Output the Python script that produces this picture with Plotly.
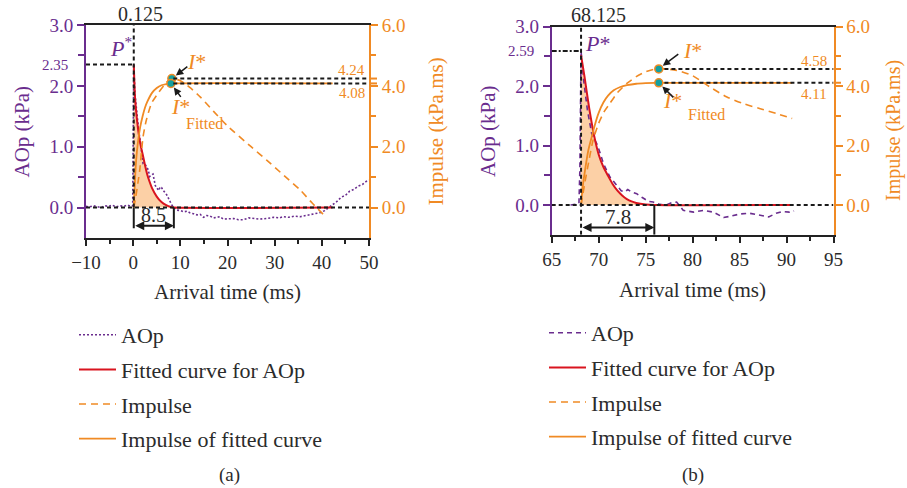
import plotly.graph_objects as go

W, H = 907, 488
FONT = "Liberation Serif"
TXT = "#2b2b2b"
PURPLE = "#6a2d8e"
ORANGE = "#f08a24"
RED = "#d9141f"
FILL = "#fcd0a6"
CYAN = "#14a0a0"

# ---------------- panel (a) ----------------
a_arrival = 0.125
a_peak = 2.35
a_duration = 8.5
a_I = 4.24
a_I_fit = 4.08
a_I_t = 8.2
a_Ifit_t = 8.0

a_raw_t = [-10, -9.3, -8.5, -7.6, -6.8, -6.0, -5.2, -4.4, -3.6, -2.8, -2.0, -1.2, -0.5, -0.1,
           0.05, 0.125, 0.4, 0.8, 1.2, 1.7, 2.1, 2.6, 3.2, 3.5, 4.2, 4.7, 5.4, 5.73, 6.0, 6.4,
           7.1, 7.5, 7.8, 8.2, 8.7, 9.2, 10.0, 10.7, 11.5, 12.1, 12.8, 13.5, 14.2, 14.9, 15.6,
           16.3, 17.0, 17.7, 18.4, 19.1, 20.2, 21.3, 22.3, 23.4, 24.5, 25.5, 26.8, 28.3, 29.8,
           31.0, 31.8, 33.0, 34.2, 35.4, 36.7, 37.8, 38.9, 39.8, 40.6, 41.5, 42.4, 43.2, 44.1,
           45.0, 45.9, 46.8, 47.7, 48.6, 49.4, 50.0]
a_raw_p = [0.02, 0.01, 0.03, 0.02, 0.0, 0.03, 0.02, 0.04, 0.01, 0.03, 0.02, 0.04, 0.02, 0.03,
           1.2, 2.35, 1.85, 1.5, 1.25, 0.98, 0.72, 0.7, 0.62, 0.51, 0.55, 0.36, 0.28, 0.34, 0.33, 0.28,
           0.21, 0.15, 0.1, 0.04, 0.0, -0.04, -0.05, -0.07, -0.06, -0.09, -0.1, -0.12, -0.11, -0.16, -0.13,
           -0.14, -0.17, -0.16, -0.15, -0.19, -0.18, -0.18, -0.2, -0.2, -0.17, -0.18, -0.19, -0.18, -0.16,
           -0.17, -0.15, -0.16, -0.14, -0.15, -0.13, -0.12, -0.1, -0.08, -0.05, 0.0, 0.06, 0.1, 0.17,
           0.2, 0.27, 0.3, 0.35, 0.38, 0.43, 0.45]

a_fit_t = [0.125, 0.4, 0.8, 1.2, 1.6, 2.0, 2.5, 3.0, 3.5, 4.0, 5.0, 6.0, 7.0, 8.0, 8.625, 42.3]
a_fit_p = [2.35, 1.80, 1.45, 1.20, 1.02, 0.88, 0.70, 0.54, 0.42, 0.32, 0.18, 0.09, 0.04, 0.01, 0.0, 0.0]

a_imp_t = [0.125, 0.5, 1.0, 1.4, 2.1, 2.8, 3.9, 5.3, 7.0, 8.2, 10.0, 12.0, 14.2, 17.0, 20.0,
           25.0, 28.3, 32.0, 35.4, 38.0, 41.0]
a_imp_v = [0.0, 0.3, 0.8, 1.24, 2.33, 2.88, 3.43, 3.76, 4.1, 4.24, 4.17, 3.95, 3.64, 3.17, 2.68,
           2.0, 1.56, 1.05, 0.58, 0.14, -0.33]

a_impfit_t = [0.125, 0.3, 0.5, 0.8, 1.1, 1.5, 2.0, 2.5, 3.0, 4.0, 5.0, 6.0, 7.0, 8.0, 42.3]
a_impfit_v = [0.0, 0.6, 1.25, 1.85, 2.25, 2.65, 3.0, 3.28, 3.48, 3.77, 3.93, 4.02, 4.06, 4.08, 4.08]

# ---------------- panel (b) ----------------
b_arrival = 68.125
b_peak = 2.59
b_duration = 7.8
b_I = 4.58
b_I_fit = 4.11
b_I_t = 76.4
b_Ifit_t = 76.4

b_raw_t = [67.0, 67.5, 67.9, 68.0, 68.06, 68.1, 68.125, 68.4, 68.8, 69.26, 69.8, 70.1, 70.5, 71.2,
           71.9, 72.4, 72.8, 73.1, 73.5, 74.05, 74.6, 75.3, 75.8, 76.5, 77.2, 77.8, 78.3, 79.0,
           80.1, 81.2, 82.2, 83.3, 84.0, 85.1, 86.1, 87.2, 88.1, 88.9, 89.6, 90.3, 90.8]
b_raw_p = [0.0, 0.01, 0.02, 0.6, 1.6, 2.2, 2.59, 2.1, 1.6, 1.2, 1.03, 0.9, 0.7, 0.47,
           0.33, 0.24, 0.22, 0.26, 0.22, 0.19, 0.13, 0.06, 0.05, 0.01, 0.0, 0.04, 0.05, -0.09,
           -0.12, -0.09, -0.12, -0.21, -0.19, -0.15, -0.14, -0.18, -0.2, -0.14, -0.11, -0.12, -0.1]

b_fit_t = [68.125, 68.5, 69.0, 69.5, 70.0, 70.5, 71.0, 71.5, 72.0, 72.5, 73.0, 73.5, 74.0, 75.0, 76.0, 90.6]
b_fit_p = [2.52, 2.15, 1.62, 1.18, 0.85, 0.64, 0.49, 0.35, 0.24, 0.16, 0.10, 0.06, 0.035, 0.01, 0.0, 0.0]

b_imp_t = [68.125, 68.5, 69.0, 69.4, 70.0, 70.6, 71.2, 72.0, 73.0, 74.0, 75.0, 76.0, 77.0, 78.3,
           80.0, 81.85, 83.6, 85.4, 87.2, 89.0, 90.6]
b_imp_v = [0.0, 0.7, 1.55, 2.18, 2.75, 3.15, 3.42, 3.78, 4.09, 4.32, 4.48, 4.57, 4.58, 4.53,
           4.35, 3.97, 3.64, 3.41, 3.24, 3.07, 2.91]

b_impfit_t = [68.125, 68.3, 68.55, 68.9, 69.26, 69.6, 70.0, 70.5, 71.0, 71.6, 72.3, 73.0, 74.0, 75.0, 76.0, 90.6]
b_impfit_v = [0.0, 0.6, 1.17, 1.84, 2.29, 2.7, 3.1, 3.45, 3.68, 3.86, 3.97, 4.03, 4.08, 4.1, 4.11, 4.11]

# axis settings
x_a_range = [-10, 50]
x_b_range = [65, 95]
aop_range = [-0.5, 3.0]
imp_range = [-1.0, 6.0]
x_a_ticks = [-10, 0, 10, 20, 30, 40, 50]
x_b_ticks = [65, 70, 75, 80, 85, 90, 95]
aop_ticks = [0, 1, 2, 3]
imp_ticks = [0, 2, 4, 6]


def px(x):
    return x / W


def py(y):
    return 1 - y / H


fig = go.Figure()


def add_panel(xa, ya, ya2, raw_t, raw_p, raw_dash, fit_t, fit_p, imp_t, imp_v,
              impfit_t, impfit_v, legend, I_t, I_v, Ifit_t, Ifit_v):
    # area under the fitted pressure curve
    fig.add_trace(go.Scatter(x=fit_t, y=fit_p, xaxis=xa, yaxis=ya, mode="lines",
                             line=dict(width=0, shape="spline", smoothing=0.6),
                             fill="tozeroy", fillcolor=FILL, showlegend=False,
                             hoverinfo="skip"))
    fig.add_trace(go.Scatter(x=raw_t, y=raw_p, xaxis=xa, yaxis=ya, mode="lines",
                             name="AOp", legend=legend, legendgroup="g1", legendrank=1,
                             line=dict(color=PURPLE, width=1.6, dash=raw_dash)))
    fig.add_trace(go.Scatter(x=fit_t, y=fit_p, xaxis=xa, yaxis=ya, mode="lines",
                             name="Fitted curve for AOp", legend=legend, legendgroup="g2",
                             legendrank=2,
                             line=dict(color=RED, width=2, shape="spline", smoothing=0.6)))
    fig.add_trace(go.Scatter(x=imp_t, y=imp_v, xaxis=xa, yaxis=ya2, mode="lines",
                             name="Impulse", legend=legend, legendgroup="g3", legendrank=3,
                             line=dict(color=ORANGE, width=1.6, dash="7px,5px",
                                       shape="spline", smoothing=0.6)))
    fig.add_trace(go.Scatter(x=impfit_t, y=impfit_v, xaxis=xa, yaxis=ya2, mode="lines",
                             name="Impulse of fitted curve", legend=legend, legendgroup="g4",
                             legendrank=4,
                             line=dict(color=ORANGE, width=1.8, shape="spline", smoothing=0.6)))
    fig.add_trace(go.Scatter(x=[I_t, Ifit_t], y=[I_v, Ifit_v], xaxis=xa, yaxis=ya2,
                             mode="markers", showlegend=False,
                             marker=dict(size=8, color=CYAN, line=dict(color=ORANGE, width=1.5))))


add_panel("x", "y", "y2", a_raw_t, a_raw_p, "2px,2px", a_fit_t, a_fit_p, a_imp_t, a_imp_v,
          a_impfit_t, a_impfit_v, "legend", a_I_t, a_I, a_Ifit_t, a_I_fit)
add_panel("x2", "y3", "y4", b_raw_t, b_raw_p, "5px,4px", b_fit_t, b_fit_p, b_imp_t, b_imp_v,
          b_impfit_t, b_impfit_v, "legend2", b_I_t, b_I, b_Ifit_t, b_I_fit)


def xaxis(domain, rng, ticks, anchor):
    return dict(domain=domain, range=rng, anchor=anchor, tickmode="array", tickvals=ticks,
                showline=True, linecolor="#222", linewidth=2, mirror=True,
                ticks="outside", ticklen=6, tickwidth=2, tickcolor="#222",
                minor=dict(ticks="outside", ticklen=4, tickwidth=2, tickcolor="#222",
                           dtick=(ticks[1] - ticks[0]) / 2, tick0=ticks[0]),
                tickfont=dict(family=FONT, size=19, color=TXT),
                showgrid=False, zeroline=False, automargin=False)


def yleft(domain, anchor):
    return dict(domain=domain, range=aop_range, anchor=anchor, tickmode="array",
                tickvals=aop_ticks, tickformat=".1f",
                showline=True, linecolor=PURPLE, linewidth=2,
                ticks="outside", ticklen=7, tickwidth=2, tickcolor=PURPLE,
                minor=dict(ticks="outside", ticklen=6, tickwidth=2, tickcolor=PURPLE,
                           tickmode="array", tickvals=[0.5, 1.5, 2.5]),
                tickfont=dict(family=FONT, size=19, color=PURPLE),
                showgrid=False, zeroline=False, automargin=False)


def yright(overlay, anchor):
    return dict(overlaying=overlay, side="right", range=imp_range, anchor=anchor,
                tickmode="array", tickvals=imp_ticks, tickformat=".1f",
                showline=True, linecolor=ORANGE, linewidth=2,
                ticks="outside", ticklen=7, tickwidth=2, tickcolor=ORANGE,
                minor=dict(ticks="outside", ticklen=5, tickwidth=2, tickcolor=ORANGE,
                           tickmode="array", tickvals=[1, 3, 5]),
                tickfont=dict(family=FONT, size=19, color=ORANGE),
                showgrid=False, zeroline=False, automargin=False)


xa_dom = [px(86), px(369)]
ya_dom = [py(238), py(25)]
xb_dom = [px(551.7), px(833.5)]
yb_dom = [py(234.7), py(26.7)]

BLK = dict(color="#1a1a1a", width=2, dash="4px,3px")
SOLID = dict(color="#1a1a1a", width=2)

shapes = [
    # panel (a)
    dict(type="line", xref="x", yref="y", x0=x_a_range[0], x1=x_a_range[1], y0=0, y1=0, line=BLK, layer="above"),
    dict(type="line", xref="x", yref="y", x0=a_arrival, x1=a_arrival, y0=0, y1=aop_range[1], line=BLK),
    dict(type="line", xref="x", yref="y", x0=x_a_range[0], x1=a_arrival, y0=a_peak, y1=a_peak, line=BLK),
    dict(type="line", xref="x", yref="y2", x0=a_I_t + 0.3, x1=x_a_range[1], y0=a_I, y1=a_I, line=BLK),
    dict(type="line", xref="x", yref="y2", x0=a_Ifit_t + 0.5, x1=x_a_range[1], y0=a_I_fit, y1=a_I_fit, line=BLK),
    dict(type="line", xref="paper", yref="y2", x0=px(369), x1=px(377), y0=a_I, y1=a_I, line=dict(color=ORANGE, width=2)),
    dict(type="line", xref="paper", yref="y2", x0=px(369), x1=px(377), y0=a_I_fit, y1=a_I_fit, line=dict(color=ORANGE, width=2)),
    dict(type="line", xref="x", yref="y", x0=a_arrival, x1=a_arrival, y0=0, y1=-0.34, line=SOLID),
    dict(type="line", xref="x", yref="y", x0=a_arrival + a_duration, x1=a_arrival + a_duration, y0=0, y1=-0.34, line=SOLID),
    # panel (b)
    dict(type="line", xref="x2", yref="y3", x0=x_b_range[0], x1=x_b_range[1], y0=0, y1=0, line=BLK, layer="above"),
    dict(type="line", xref="x2", yref="y3", x0=b_arrival, x1=b_arrival, y0=aop_range[0], y1=aop_range[1], line=BLK),
    dict(type="line", xref="x2", yref="y3", x0=x_b_range[0], x1=b_arrival, y0=b_peak, y1=b_peak,
         line=dict(color="#1a1a1a", width=2, dash="5px,2px,2px,2px")),
    dict(type="line", xref="x2", yref="y4", x0=b_I_t + 0.6, x1=x_b_range[1], y0=b_I, y1=b_I, line=BLK),
    dict(type="line", xref="x2", yref="y4", x0=b_Ifit_t + 0.6, x1=x_b_range[1], y0=b_I_fit, y1=b_I_fit, line=BLK),
    dict(type="line", xref="paper", yref="y4", x0=px(833.5), x1=px(841), y0=b_I, y1=b_I, line=dict(color=ORANGE, width=2)),
    dict(type="line", xref="paper", yref="y4", x0=px(833.5), x1=px(841), y0=b_I_fit, y1=b_I_fit, line=dict(color=ORANGE, width=2)),
    dict(type="line", xref="x2", yref="y3", x0=b_arrival + b_duration, x1=b_arrival + b_duration, y0=0, y1=aop_range[0], line=SOLID),
]


def txt(text, x, y, size=20, color=TXT, xanchor="center", yanchor="middle", angle=0,
        xref="paper", yref="paper", **kw):
    return dict(text=text, x=x, y=y, xref=xref, yref=yref, showarrow=False, xanchor=xanchor,
                yanchor=yanchor, textangle=angle, font=dict(family=FONT, size=size, color=color), **kw)


def arrow(x, y, xref, yref, ax, ay, standoff=5):
    return dict(text="", x=x, y=y, xref=xref, yref=yref, ax=ax, ay=ay, showarrow=True,
                arrowhead=2, arrowsize=1, arrowwidth=1.5, arrowcolor="#1a1a1a", standoff=standoff)


def span(x0, x1, y, xref, yref):
    return dict(text="", x=x1, y=y, ax=x0, ay=y, xref=xref, yref=yref, axref=xref, ayref=yref,
                showarrow=True, arrowhead=2, arrowside="end+start", arrowsize=0.9,
                arrowwidth=2, arrowcolor="#1a1a1a")


annotations = [
    # panel (a)
    txt(f"{a_arrival:.3f}", a_arrival, py(14), xref="x", xshift=7, size=20),
    txt("<i>P</i><sup>*</sup>", px(121), py(47), size=22, color=PURPLE),
    txt(f"{a_peak:.2f}", px(70), a_peak, size=15, color=PURPLE, xanchor="right", yref="y"),
    txt(f"{a_I:.2f}", px(367), a_I, size=15, color=ORANGE, xanchor="right", yref="y2", yshift=9),
    txt(f"{a_I_fit:.2f}", px(367), a_I_fit, size=15, color=ORANGE, xanchor="right", yref="y2", yshift=-10),
    txt("<i>I</i>*", px(196), py(62), size=22, color=ORANGE),
    txt("<i>I</i>*", px(180), py(107), size=22, color=ORANGE),
    txt("Fitted", px(204), py(124), size=16, color=ORANGE),
    arrow(a_I_t, a_I, "x", "y2", 17, -13),
    arrow(a_Ifit_t, a_I_fit, "x", "y2", 11, 15),
    span(a_arrival, a_arrival + a_duration, -0.30, "x", "y"),
    txt(f"{a_duration}", a_arrival + a_duration / 2, -0.12, xref="x", yref="y", size=20),
    txt("Arrival time (ms)", px(227), py(292), size=21),
    txt("AOp (kPa)", px(21), py(131.5), size=21, color=PURPLE, angle=-90),
    txt("Impulse (kPa.ms)", px(435), py(131.5), size=21, color=ORANGE, angle=-90),
    txt("(a)", px(229), py(475), size=19),
    # panel (b)
    txt(f"{b_arrival:.3f}", b_arrival, py(15), xref="x2", xshift=17, size=20),
    txt("<i>P</i>*", px(597), py(43), size=22, color=PURPLE),
    txt(f"{b_peak:.2f}", px(536), b_peak, size=15, color=PURPLE, xanchor="right", yref="y3"),
    txt(f"{b_I:.2f}", px(829), b_I, size=15, color=ORANGE, xanchor="right", yref="y4", yshift=8),
    txt(f"{b_I_fit:.2f}", px(829), b_I_fit, size=15, color=ORANGE, xanchor="right", yref="y4", yshift=-11),
    txt("<i>I</i>*", px(692), py(50), size=22, color=ORANGE),
    txt("<i>I</i>*", px(672), py(101), size=22, color=ORANGE),
    txt("Fitted", px(706), py(115), size=16, color=ORANGE),
    arrow(b_I_t, b_I, "x2", "y4", 21, -16),
    arrow(b_Ifit_t, b_I_fit, "x2", "y4", 16, 16),
    span(b_arrival, b_arrival + b_duration, -0.38, "x2", "y3"),
    txt(f"{b_duration}", b_arrival + b_duration / 2, -0.21, xref="x2", yref="y3", size=21),
    txt("Arrival time (ms)", px(692), py(290), size=21),
    txt("AOp (kPa)", px(488), py(131), size=21, color=PURPLE, angle=-90),
    txt("Impulse (kPa.ms)", px(893), py(131), size=20, color=ORANGE, angle=-90),
    txt("(b)", px(693), py(475), size=19),
]

legend_style = dict(xanchor="left", yanchor="top", bgcolor="rgba(0,0,0,0)",
                    font=dict(family=FONT, size=22, color=TXT), tracegroupgap=3,
                    itemwidth=37, traceorder="grouped")

fig.update_layout(
    width=W, height=H, margin=dict(l=0, r=0, t=0, b=0, autoexpand=False),
    paper_bgcolor="white", plot_bgcolor="white",
    showlegend=True,
    xaxis=xaxis(xa_dom, x_a_range, x_a_ticks, "y"),
    yaxis=yleft(ya_dom, "x"),
    yaxis2=yright("y", "x"),
    xaxis2=xaxis(xb_dom, x_b_range, x_b_ticks, "y3"),
    yaxis3=yleft(yb_dom, "x2"),
    yaxis4=yright("y3", "x2"),
    legend=dict(x=px(74), y=py(314), **legend_style),
    legend2=dict(x=px(544), y=py(312), **legend_style),
    shapes=shapes,
    annotations=annotations,
)

fig.write_html("out.html")
